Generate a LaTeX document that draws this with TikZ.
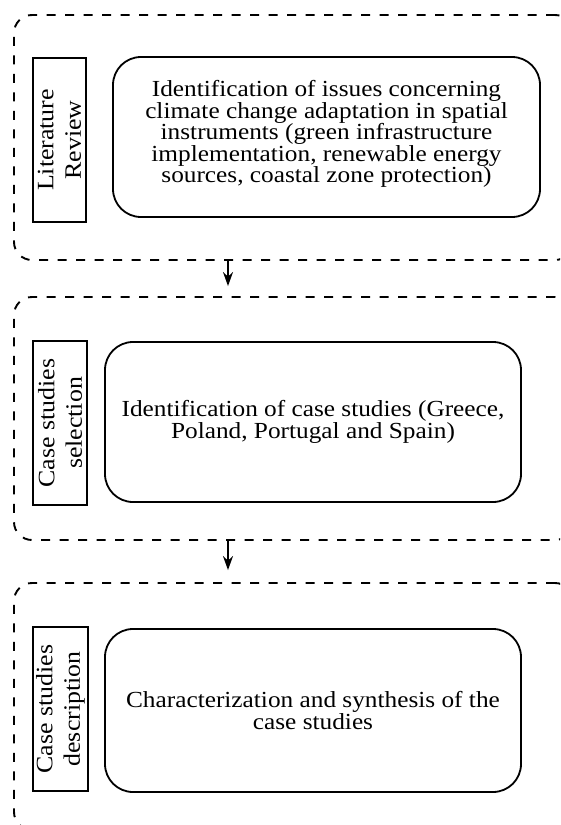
\documentclass[tikz,border=0pt]{standalone}
\usepackage{fontspec}
\setmainfont{Liberation Serif}[FakeStretch=1.1]
\usetikzlibrary{arrows.meta}
\begin{document}
\begin{tikzpicture}[x=1pt,y=-1pt,
  outerbox/.style={draw, line width=1.9pt, dash pattern=on 9pt off 9.5pt, rounded corners=18pt, inner sep=0pt},
  labelbox/.style={draw, line width=1.8pt, rotate=90, minimum width=164pt, inner sep=0pt, align=center, font=\fontsize{23.5}{27.5}\selectfont},
  innerbox/.style={draw, line width=1.8pt, rounded corners=28pt, inner sep=0pt, align=center, font=\fontsize{23}{21.4}\selectfont},
  flow/.style={line width=1.5pt, -{Stealth[length=14pt,width=10pt]}}]
\useasboundingbox (0,0) rectangle (560,825);
\begin{scope}
\clip (0,0) rectangle (560,825);
\node[outerbox, minimum width=559pt, minimum height=245pt] (o1) at (293.5,137.5) {};
\node[outerbox, minimum width=559pt, minimum height=243pt] (o2) at (293.5,418.5) {};
\node[outerbox, minimum width=559pt, minimum height=247pt] (o3) at (293.5,706.5) {};
\end{scope}
\node[labelbox, minimum height=53pt] (l1) at (59.5,140) {Literature\\Review};
\node[labelbox, minimum height=54pt] (l2) at (60,423) {Case studies\\selection};
\node[labelbox, minimum height=55pt] (l3) at (60.5,709) {Case studies\\description};
\node[innerbox, minimum width=427pt, minimum height=160pt] (i1) at (326.5,137) {Identification of issues concerning\\climate change adaptation in spatial\\instruments (green infrastructure\\implementation, renewable energy\\sources, coastal zone protection)\vspace{6pt}};
\node[innerbox, minimum width=416pt, minimum height=160pt] (i2) at (313,422) {Identification of case studies (Greece,\\Poland, Portugal and Spain)};
\node[innerbox, minimum width=416pt, minimum height=163pt] (i3) at (313,710.5) {Characterization and synthesis of the\\case studies};
\coordinate (ax) at (228,0);
\draw[flow, shorten >=10pt] (o1.south -| ax) -- (o2.north -| ax);
\draw[flow, shorten >=12pt] (o2.south -| ax) -- (o3.north -| ax);
\end{tikzpicture}
\end{document}
